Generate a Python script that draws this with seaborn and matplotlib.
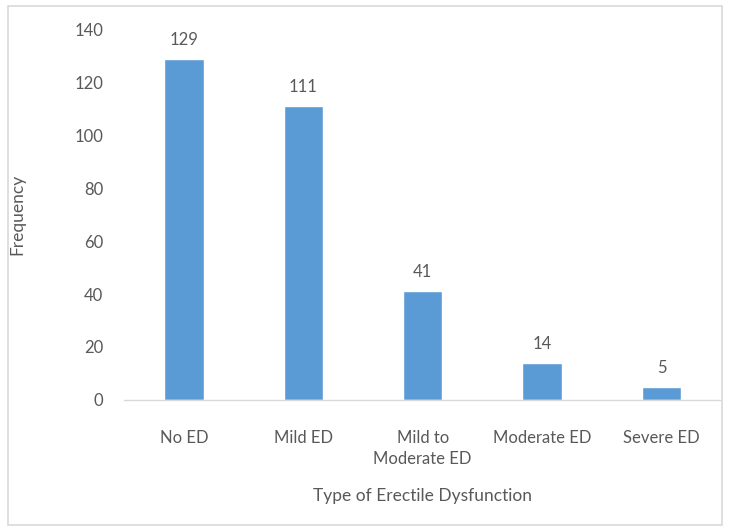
import matplotlib.pyplot as plt
import matplotlib.patches as patches
import seaborn as sns
import pandas as pd

# chart data
categories = ["No ED", "Mild ED", "Mild to\nModerate ED", "Moderate ED", "Severe ED"]
frequency = [129, 111, 41, 14, 5]

df = pd.DataFrame({"type": categories, "freq": frequency})

sns.set_style("white")
plt.rcParams["font.family"] = ["Lato", "DejaVu Sans"]
text_color = "#595959"

fig = plt.figure(figsize=(7.3, 5.31), dpi=100)
ax = fig.add_axes([0.170, 0.247, 0.818, 0.697])

sns.barplot(x="type", y="freq", data=df, color="#5B9BD5", width=0.33,
            saturation=1, ax=ax)

# value labels over the bars
for i, v in enumerate(frequency):
    ax.annotate(str(v), (i, v), xytext=(0, 8), textcoords="offset points",
                ha="center", va="bottom", fontsize=12, color=text_color)

ax.set_ylim(0, 140)
ax.set_yticks(range(0, 141, 20))
ax.set_xlim(-0.5, 4.5)
ax.set_xlabel("Type of Erectile Dysfunction", fontsize=12.5, color=text_color, labelpad=15)
ax.set_ylabel("Frequency", fontsize=12.5, color=text_color, labelpad=35)
ax.tick_params(axis="both", length=0, labelsize=12, colors=text_color)
ax.tick_params(axis="x", pad=22)
ax.tick_params(axis="y", pad=15)
for lbl in ax.get_xticklabels():
    lbl.set_linespacing(1.35)

sns.despine(ax=ax, left=True, top=True, right=True)
ax.spines["bottom"].set_color("#D9D9D9")
ax.spines["bottom"].set_linewidth(1.0)

# chart border
fig.patches.append(patches.Rectangle((0.011, 0.011), 0.978, 0.978, transform=fig.transFigure,
                                     fill=False, edgecolor="#D9D9D9", linewidth=1.2))

plt.savefig("out.png", dpi=100)
plt.close()
